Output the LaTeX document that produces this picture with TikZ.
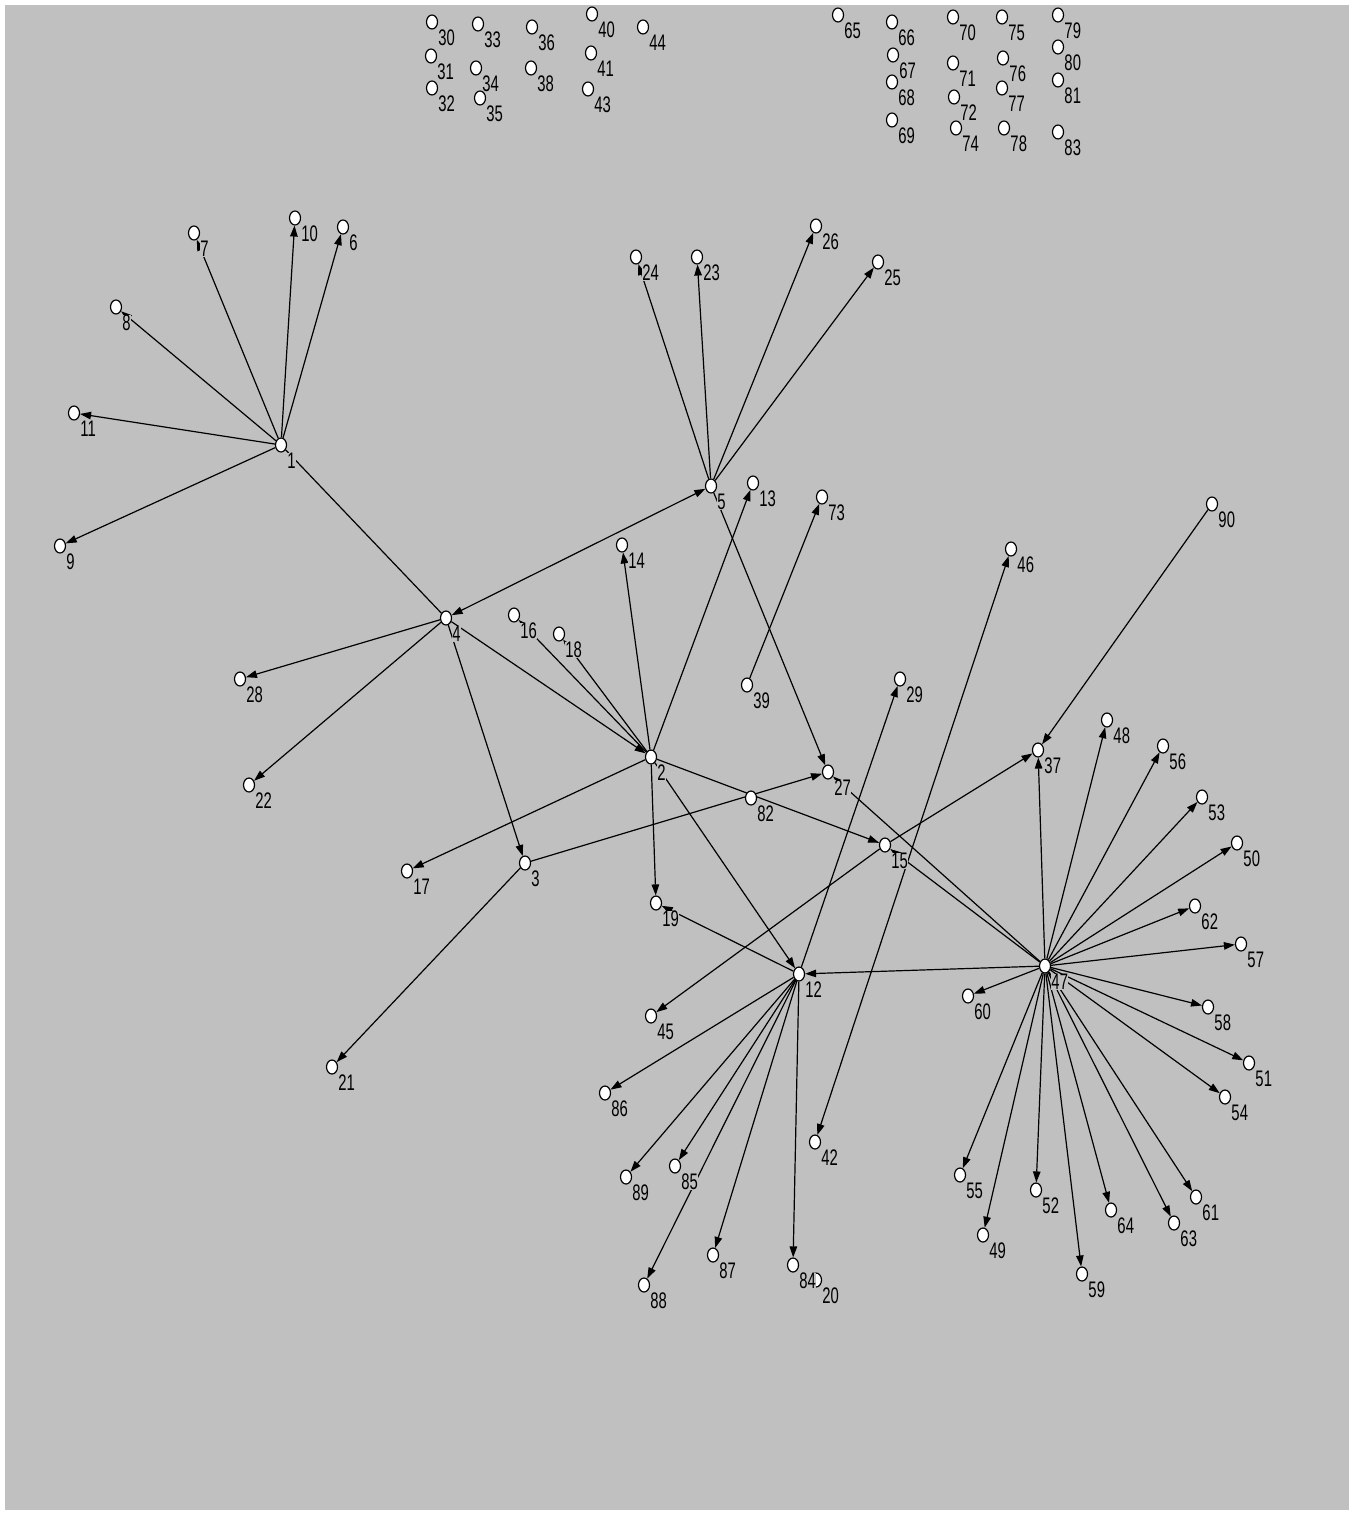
\documentclass[tikz,border=0pt]{standalone}
\usepackage{fontspec}
\usepackage{xcolor}
\usepackage{tikz}
\usetikzlibrary{arrows.meta, shapes.geometric}
\newfontfamily\lblfont[FakeStretch=0.66]{Liberation Sans}
\definecolor{panelgray}{RGB}{192,192,192}
\pgfdeclarelayer{back}
\pgfdeclarelayer{edges}
\pgfsetlayers{back,edges,main}

\begin{document}
\begin{tikzpicture}[x=1pt, y=-1pt,
  vtx/.style={ellipse, draw, fill=white, line width=1.2pt, minimum width=11pt, minimum height=14pt, inner sep=0pt},
  lbl/.style={font=\lblfont\fontsize{22.5}{22.5}\selectfont, fill=panelgray, inner sep=0.4pt},
  every label/.style={lbl},
  label distance=2.5pt,
  arr/.style={-{Triangle[length=11pt, width=7.5pt]}, line width=1.2pt},
  both/.style={{Triangle[length=11pt, width=7.5pt]}-{Triangle[length=11pt, width=7.5pt]}, line width=1.2pt},
  plain/.style={line width=1.2pt}
]
\useasboundingbox (0,0) rectangle (1353,1514);
\begin{pgfonlayer}{back}
\fill[panelgray] (5,5) rectangle (1349,1510);
\end{pgfonlayer}

% --- isolated nodes, left block ---
\node[vtx, label=south east:30] (n30) at (432,22) {};
\node[vtx, label=south east:33] (n33) at (478,24) {};
\node[vtx, label=south east:36] (n36) at (532,27) {};
\node[vtx, label=south east:40] (n40) at (592,14) {};
\node[vtx, label=south east:44] (n44) at (643,27) {};
\node[vtx, label=south east:31] (n31) at (431,56) {};
\node[vtx, label=south east:34] (n34) at (476,68) {};
\node[vtx, label=south east:38] (n38) at (531,68) {};
\node[vtx, label=south east:41] (n41) at (591,53) {};
\node[vtx, label=south east:32] (n32) at (432,88) {};
\node[vtx, label=south east:35] (n35) at (480,98) {};
\node[vtx, label=south east:43] (n43) at (588,89) {};

% --- isolated nodes, right block ---
\node[vtx, label=south east:65] (n65) at (838,15) {};
\node[vtx, label=south east:66] (n66) at (892,22) {};
\node[vtx, label=south east:70] (n70) at (953,17) {};
\node[vtx, label=south east:75] (n75) at (1002,17) {};
\node[vtx, label=south east:79] (n79) at (1058,15) {};
\node[vtx, label=south east:67] (n67) at (893,55) {};
\node[vtx, label=south east:71] (n71) at (953,63) {};
\node[vtx, label=south east:76] (n76) at (1003,58) {};
\node[vtx, label=south east:80] (n80) at (1058,47) {};
\node[vtx, label=south east:68] (n68) at (892,82) {};
\node[vtx, label=south east:72] (n72) at (954,97) {};
\node[vtx, label=south east:77] (n77) at (1002,88) {};
\node[vtx, label=south east:81] (n81) at (1058,80) {};
\node[vtx, label=south east:69] (n69) at (892,120) {};
\node[vtx, label=south east:74] (n74) at (956,128) {};
\node[vtx, label=south east:78] (n78) at (1004,128) {};
\node[vtx, label=south east:83] (n83) at (1058,132) {};

% --- network ---
\node[vtx, label=south east:1] (n1) at (281,445) {};
\node[vtx, label=south east:6] (n6) at (343,227) {};
\node[vtx, label=south east:7] (n7) at (194,233) {};
\node[vtx, label=south east:8] (n8) at (116,307) {};
\node[vtx, label=south east:9] (n9) at (60,546) {};
\node[vtx, label=south east:10] (n10) at (295,218) {};
\node[vtx, label=south east:11] (n11) at (74,413) {};
\node[vtx, label=south east:4] (n4) at (446,618) {};
\node[vtx, label=south east:28] (n28) at (240,679) {};
\node[vtx, label=south east:22] (n22) at (249,785) {};
\node[vtx, label=south east:3] (n3) at (525,863) {};
\node[vtx, label=south east:21] (n21) at (332,1067) {};
\node[vtx, label=south east:17] (n17) at (407,871) {};
\node[vtx, label=south east:5] (n5) at (711,486) {};
\node[vtx, label=south east:24] (n24) at (636,257) {};
\node[vtx, label=south east:23] (n23) at (697,257) {};
\node[vtx, label=south east:26] (n26) at (816,226) {};
\node[vtx, label=south east:25] (n25) at (878,262) {};
\node[vtx, label=south east:13] (n13) at (753,483) {};
\node[vtx, label=south east:73] (n73) at (822,497) {};
\node[vtx, label=south east:14] (n14) at (622,545) {};
\node[vtx, label=south east:16] (n16) at (514,615) {};
\node[vtx, label=south east:18] (n18) at (559,634) {};
\node[vtx, label=south east:39] (n39) at (747,685) {};
\node[vtx, label=south east:2] (n2) at (651,757) {};
\node[vtx, label=south east:27] (n27) at (828,772) {};
\node[vtx, label=south east:82] (n82) at (751,798) {};
\node[vtx, label=south east:15] (n15) at (885,845) {};
\node[vtx, label=south east:19] (n19) at (656,903) {};
\node[vtx, label=south east:29] (n29) at (900,679) {};
\node[vtx, label=south east:46] (n46) at (1011,549) {};
\node[vtx, label=south east:90] (n90) at (1212,504) {};
\node[vtx, label=south east:37] (n37) at (1038,750) {};
\node[vtx, label=south east:12] (n12) at (799,974) {};
\node[vtx, label=south east:45] (n45) at (651,1016) {};
\node[vtx, label=south east:86] (n86) at (605,1093) {};
\node[vtx, label=south east:42] (n42) at (815,1142) {};
\node[vtx, label=south east:89] (n89) at (626,1177) {};
\node[vtx, label=south east:85] (n85) at (675,1166) {};
\node[vtx, label=south east:87] (n87) at (713,1255) {};
\node[vtx, label=south east:88] (n88) at (644,1285) {};
\node[vtx, label=south east:20] (n20) at (816,1280) {};
\node[vtx, label=south east:84] (n84) at (793,1265) {};
\node[vtx, label=south east:47] (n47) at (1045,966) {};
\node[vtx, label=south east:48] (n48) at (1107,720) {};
\node[vtx, label=south east:56] (n56) at (1163,746) {};
\node[vtx, label=south east:53] (n53) at (1202,797) {};
\node[vtx, label=south east:50] (n50) at (1237,843) {};
\node[vtx, label=south east:62] (n62) at (1195,906) {};
\node[vtx, label=south east:57] (n57) at (1241,944) {};
\node[vtx, label=south east:60] (n60) at (968,996) {};
\node[vtx, label=south east:58] (n58) at (1208,1007) {};
\node[vtx, label=south east:51] (n51) at (1249,1063) {};
\node[vtx, label=south east:54] (n54) at (1225,1097) {};
\node[vtx, label=south east:55] (n55) at (960,1175) {};
\node[vtx, label=south east:52] (n52) at (1036,1190) {};
\node[vtx, label=south east:49] (n49) at (983,1235) {};
\node[vtx, label=south east:59] (n59) at (1082,1274) {};
\node[vtx, label=south east:64] (n64) at (1111,1210) {};
\node[vtx, label=south east:63] (n63) at (1174,1223) {};
\node[vtx, label=south east:61] (n61) at (1196,1197) {};

\begin{pgfonlayer}{edges}
% --- around 1 ---
\draw[arr] (n1) -- (n10);
\draw[arr] (n1) -- (n6);
\draw[arr] (n1) -- (n7);
\draw[arr] (n1) -- (n8);
\draw[arr] (n1) -- (n11);
\draw[arr] (n1) -- (n9);
\draw[plain] (n4) -- (n1);
% --- around 4 ---
\draw[both] (n4) -- (n5);
\draw[arr] (n4) -- (n28);
\draw[arr] (n4) -- (n22);
\draw[arr] (n4) -- (n3);
\draw[arr] (n4) -- (n2);
% --- around 5 ---
\draw[arr] (n5) -- (n24);
\draw[arr] (n5) -- (n23);
\draw[arr] (n5) -- (n26);
\draw[arr] (n5) -- (n25);
\draw[arr] (n5) -- (n27);
% --- around 2 and 3 ---
\draw[arr] (n2) -- (n13);
\draw[arr] (n2) -- (n14);
\draw[arr] (n2) -- (n16);
\draw[arr] (n2) -- (n18);
\draw[arr] (n2) -- (n17);
\draw[arr] (n2) -- (n19);
\draw[arr] (n2) -- (n12);
\draw[arr] (n2) -- (n15);
\draw[arr] (n3) -- (n27);
\draw[arr] (n3) -- (n21);
\draw[arr] (n39) -- (n73);
% --- around 12 and 15 ---
\draw[arr] (n12) -- (n19);
\draw[arr] (n12) -- (n29);
\draw[arr] (n12) -- (n86);
\draw[arr] (n12) -- (n89);
\draw[arr] (n12) -- (n85);
\draw[arr] (n12) -- (n88);
\draw[arr] (n12) -- (n87);
\draw[arr] (n12) -- (n84);
\draw[arr] (n15) -- (n45);
\draw[arr] (n15) -- (n37);
\draw[both] (n42) -- (n46);
\draw[arr] (n90) -- (n37);
% --- around 47 ---
\draw[arr] (n47) -- (n37);
\draw[arr] (n47) -- (n48);
\draw[arr] (n47) -- (n56);
\draw[arr] (n47) -- (n53);
\draw[arr] (n47) -- (n50);
\draw[arr] (n47) -- (n62);
\draw[arr] (n47) -- (n57);
\draw[arr] (n47) -- (n58);
\draw[arr] (n47) -- (n51);
\draw[arr] (n47) -- (n54);
\draw[arr] (n47) -- (n61);
\draw[arr] (n47) -- (n63);
\draw[arr] (n47) -- (n64);
\draw[arr] (n47) -- (n59);
\draw[arr] (n47) -- (n52);
\draw[arr] (n47) -- (n49);
\draw[arr] (n47) -- (n55);
\draw[arr] (n47) -- (n60);
\draw[arr] (n47) -- (n12);
\draw[arr] (n47) -- (n27);
\draw[arr] (n47) -- (n15);
\end{pgfonlayer}
\end{tikzpicture}
\end{document}
